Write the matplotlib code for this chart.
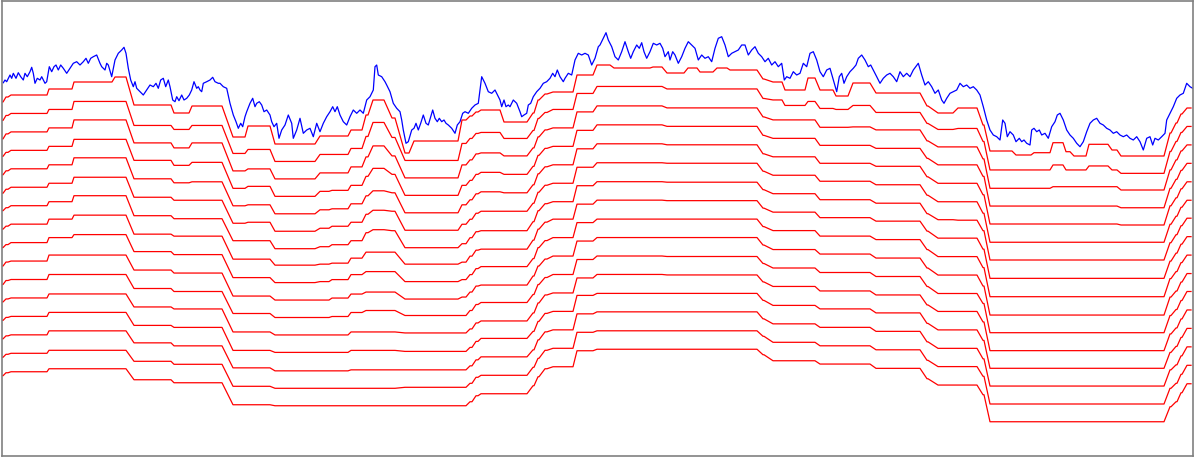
import numpy as np
import matplotlib
matplotlib.use("Agg")
import matplotlib.pyplot as plt

# noisy input signal (sample index, level; level axis points down)
blue_x = [3.3, 5, 6.7, 10, 11.7, 13.3, 16, 18.3, 20.7, 23.3, 25, 27.3, 30, 31.7, 33.3, 35, 37.3, 40, 41.7, 45, 46.7,
          49.3, 51.7, 54, 56, 58.3, 60.7, 63.3, 66.7, 70, 73.3, 76.7, 80, 83.3, 86, 88.3, 90.7, 93.3, 96.7, 100, 101.7,
          105, 106.7, 108.3, 111.7, 115, 118.3, 121.7, 124, 126, 128.3, 130.7, 133.3, 135, 136.7, 140, 143.3, 146.7,
          150, 153.3, 156, 158.3, 160.7, 163.3, 165.7, 168.3, 170, 172.7, 175, 176.7, 179, 181.7, 184, 186.7, 189.3,
          191.7, 194, 196.7, 198.3,
          200, 201.7, 203.3, 206.7, 210, 212.7, 215, 218.3, 220, 221.7, 223.3, 226.7, 230, 233.3, 236, 238.3, 240.7,
          242.7, 245, 246.7, 250, 252.7, 255, 256.7, 259.3, 261.7, 264, 266.7, 270, 271.7, 274, 276.7, 279, 281.7, 285,
          288.3, 291.7, 293.3, 296.7, 300, 303.3, 306.7, 310, 313.3, 316.7, 320, 323.3, 326.7, 330, 332.7, 335, 337.3,
          340, 343.3, 346.7, 350, 353.3, 356.7, 360, 363.3, 366.7, 370, 373.3, 375, 376.7, 378.3, 381.7, 385, 386.7,
          390, 393.3, 396.7,
          400, 401.7, 403.3, 406, 408.3, 411.7, 414, 416, 418.3, 420.7, 423.3, 426, 428.3, 430.7, 432.7, 435, 437.3,
          439.3, 441.7, 444, 446, 448.3, 451.7, 455, 457.3, 460, 462.7, 465, 468.3, 471.7, 475, 478.3, 481.7, 485,
          488.3, 491.7, 495, 498.3, 500, 501.7, 504, 506, 508.3, 510, 513.3, 516.7, 520, 521.7, 524, 526.7, 528.3,
          530.7, 533.3, 536.7, 540, 543.3, 546.7, 550, 552.7, 555, 557.3, 560, 563.3, 565, 568.3, 571.7, 575, 578.3,
          581.7, 585, 588.3, 591.7, 595, 598.3,
          600, 603.3, 606, 608.3, 611.7, 615, 618.3, 621.7, 625, 628.3, 630.7, 633.3, 636.7, 639.3, 641.7, 644, 646.7,
          650, 653.3, 656.7, 660, 662.7, 665, 668.3, 670, 672.7, 675, 678.3, 681.7, 685, 688.3, 691.7, 695, 698.3,
          701.7, 705, 708.3, 711.7, 715, 718.3, 721.7, 725, 728.3, 731.7, 735, 738.3, 741.7, 745, 748.3, 751.7, 755,
          758.3, 761.7, 765, 768.3, 771.7, 775, 778.3, 781.7, 784.3, 786.7, 790, 793.3, 796.7,
          800, 803.3, 806.7, 810, 813.3, 816.7, 820, 823.3, 826.7, 830, 833.3, 836.7, 839.3, 841.7, 844, 846.7, 850,
          853.3, 856, 858.3, 861.7, 865, 868.3, 870.7, 873.3, 876.7, 880, 883.3, 886.7, 890, 893.3, 896.7, 900, 903.3,
          906.7, 910, 913.3, 918.3, 921.7, 925, 928.3, 931.7, 935, 938.3, 941.7, 944, 946.7, 950, 953.3, 956.7, 960,
          963.3, 966.7, 970, 973.3, 976.7, 980, 983.3, 986.7, 990, 993.3, 996.7,
          1000, 1002.7, 1005, 1007.3, 1010, 1013.3, 1016, 1019.3, 1021.7, 1024, 1026.7, 1030, 1031.7, 1034, 1036.7,
          1039.3, 1041.7, 1045, 1048.3, 1051.7, 1055, 1057.3, 1060, 1063.3, 1066.7, 1070, 1073.3, 1076.7, 1080,
          1083.3, 1086.7, 1090, 1093.3, 1096.7, 1100, 1103.3, 1106.7, 1110, 1113.3, 1116.7, 1120, 1123.3, 1126.7,
          1130, 1133.3, 1136.7, 1140, 1143.3, 1146.7, 1150, 1152.7, 1155, 1158.3, 1161.7, 1165, 1166.7, 1170, 1173.3,
          1176.7, 1180, 1183.3, 1186.7, 1190, 1192.7]
blue_y = [82.7, 80, 81.7, 75, 78.3, 73.3, 78.3, 72.7, 76.7, 80, 73.3, 76.7, 71.7, 67.3, 73.3, 83.3, 78.3, 80, 76.7,
          83.3, 81.7, 66.7, 71.7, 66.7, 65, 70, 65, 68.3, 73.3, 68.3, 63.3, 61.7, 65, 61.7, 58.3, 63.3, 58.3, 56.7, 55,
          63.3, 66.7, 70, 63.3, 65, 76.7, 60, 53.3, 50, 47.3, 53.3, 68.3, 80, 86.7, 81.7, 88.3, 91.7, 95, 90, 85, 86.7,
          83.3, 88.3, 80, 78.3, 86.7, 80, 86.7, 100, 101.7, 96.7, 100.7, 95, 100, 98.3, 95, 90, 81.7, 88.3, 86.7,
          90, 91.7, 83.3, 81.7, 80, 77.3, 81.7, 83.3, 83.3, 85, 86.7, 88.3, 103.3, 115, 121.7, 128.3, 123.3, 126.7,
          116.7, 111.7, 103.3, 98.3, 106.7, 103.3, 101.7, 105, 111.7, 110, 115, 121.7, 126.7, 123.3, 138.3, 130, 125,
          115, 123.3, 138.3, 130, 118.3, 133.3, 130, 128.3, 136.7, 123.3, 131.7, 123.3, 116.7, 111.7, 106.7, 111.7,
          106.7, 115, 121.7, 125, 116.7, 110, 113.3, 110, 113.3, 100, 96.7, 90, 66.7, 65, 75, 76.7, 81.7, 85, 91.7,
          103.3, 108.3,
          111.7, 120, 130, 143.3, 141.7, 130, 128.3, 123.3, 130, 123.3, 115, 123.3, 125, 116.7, 110, 118.3, 121.7,
          118.3, 121.7, 120, 123.3, 125, 128.3, 133.3, 125, 121.7, 113.3, 111.7, 113.3, 108.3, 105, 103.3, 76.7, 83.3,
          91.7, 93.3, 90, 96.7, 100, 106.7, 100, 106.7, 105, 106.7, 100, 103.3, 111.7, 116.7, 115, 113.3, 105, 103.3,
          96.7, 91.7, 88.3, 83.3, 81.7, 78.3, 73.3, 76.7, 70, 76.7, 81.7, 78.3, 73.3, 75, 60, 53.3, 55, 53.3, 55, 65,
          58.3, 46.7,
          45, 38.3, 32.7, 40, 46.7, 56.7, 60, 51.7, 41.7, 51.7, 58.3, 51.7, 45, 48.3, 42.7, 51.7, 58.3, 51.7, 43.3, 45,
          43.3, 48.3, 56.7, 51.7, 60, 51.7, 55, 63.3, 56.7, 48.3, 41.7, 45, 48.3, 60, 55, 58.3, 56.7, 61.7, 48.3, 38.3,
          36.7, 45, 56.7, 53.3, 51.7, 50, 45, 45, 55, 50, 46.7, 53.3, 56.7, 61.7, 58.3, 65, 61.7, 66.7, 63.3, 80, 76.7,
          78.3, 71.7, 75,
          73.3, 63.3, 66.7, 53.3, 51.7, 60, 71.7, 76.7, 70, 68.3, 80, 91.7, 76.7, 73.3, 83.3, 76.7, 71.7, 68.3, 65,
          58.3, 55, 60, 66.7, 65, 70, 76.7, 83.3, 78.3, 75, 73.3, 76.7, 81.7, 71.7, 76.7, 73.3, 76.7, 70, 63.3, 75, 85,
          81.7, 86.7, 93.3, 90, 100, 103.3, 98.3, 93.3, 91.7, 90, 83.3, 86.7, 85, 88.3, 86.7, 90, 95, 106.7, 120, 130,
          135, 136.7,
          140, 120, 123.3, 136.7, 131.7, 135, 141.7, 138.3, 141.7, 140, 143.3, 145, 130, 128.3, 131.7, 130, 135, 133.3,
          138.3, 126.7, 121.7, 115, 113.3, 120, 130, 135, 138.3, 143.3, 146.7, 141.7, 131.7, 123.3, 120, 118.3, 123.3,
          125, 128.3, 130, 133.3, 131.7, 135, 136.7, 135, 138.3, 140, 136.7, 141.7, 150, 138.3, 136.7, 145, 138.3,
          140, 136.7, 133.3, 120, 113.3, 106.7, 98.3, 95, 93.3, 83.3, 86.7, 88.3]

# plateaus shared by the smoothed traces (start / end sample)
plat_x0 = [2, 6, 11, 49, 74, 115, 134, 174, 192,
           233, 248, 275, 320, 332, 351, 366, 373, 392, 405, 414,
           462, 470, 476, 481, 504, 533, 538, 545, 553,
           577, 597, 614, 653, 667, 688, 700, 717, 730,
           763, 773, 785, 808, 820, 836, 853, 876, 927, 938, 958,
           983, 990, 1016, 1034, 1053, 1066, 1074, 1089, 1112, 1121, 1170, 1176, 1181, 1187]
plat_x1 = [3, 8, 47, 72, 112, 126, 171, 189, 222,
           245, 270, 315, 329, 348, 362, 368, 384, 395, 409, 458,
           466, 472, 478, 500, 527, 534, 539, 547, 573,
           593, 610, 650, 662, 684, 697, 713, 727, 757,
           764, 782, 805, 815, 833, 848, 870, 920, 928, 953, 977,
           984, 1012, 1031, 1050, 1063, 1070, 1086, 1108, 1117, 1164, 1171, 1177, 1182, 1191]

# level of each plateau for traces 1..16, relative to the trace's own baseline
levels_left = [
    [7, 7, 7, 6, 6, 6, 5, 5, 5, 5, 5, 4, 4, 4, 4, 4],
    [2, 2, 2, 2, 2, 2, 2, 2, 2, 1, 1, 1, 1, 1, 1, 1],
    [0, 0, 0, 0, 0, 0, 0, 0, 0, 0, 0, 0, 0, 0, 0, 0],
    [-6, -4, -4, -4, -4, -4, -4, -5, -5, -6, -5, -4, -4, -4, -3, -3],
    [-13, -12, -12, -11, -11, -10, -10, -9, -8, -6, -5, -4, -4, -4, -3, -3],
    [-18, -12, -12, -11, -11, -10, -10, -9, -8, -6, -5, -4, -4, -4, -3, -3],
    [10, 12, 11, 10, 10, 10, 10, 10, 9, 9, 9, 9, 9, 8, 8, 8],
    [18, 16, 16, 15, 14, 13, 13, 12, 12, 12, 12, 11, 11, 11, 11, 11],
    [11, 12, 11, 12, 13, 13, 13, 12, 12, 12, 12, 11, 11, 11, 11, 11],
]
levels_dip = [
    [42, 40, 39, 38, 37, 36, 35, 35, 35, 35, 34, 34, 34, 33, 33, 33],
    [31, 36, 37, 36, 36, 35, 35, 35, 35, 35, 34, 34, 34, 33, 33, 33],
    [49, 48, 47, 46, 45, 44, 43, 41, 40, 39, 38, 37, 36, 36, 35, 34],
    [41, 41, 41, 41, 41, 41, 41, 40, 39, 39, 38, 37, 36, 36, 35, 34],
    [41, 41, 41, 40, 40, 39, 39, 39, 37, 37, 37, 37, 36, 36, 35, 34],
    [35, 35, 35, 35, 35, 35, 35, 34, 32, 33, 33, 34, 34, 35, 35, 34],
    [20, 23, 25, 26, 27, 27, 27, 28, 29, 31, 31, 34, 34, 35, 35, 34],
    [5, 9, 14, 18, 22, 23, 24, 28, 29, 31, 31, 34, 34, 35, 35, 34],
    [23, 24, 24, 24, 24, 24, 25, 28, 29, 31, 31, 34, 34, 35, 35, 34],
    [58, 47, 46, 45, 44, 43, 42, 40, 39, 38, 36, 35, 35, 35, 34, 34],
    [46, 47, 46, 45, 44, 43, 42, 40, 39, 38, 36, 35, 35, 35, 34, 34],
]
levels_rise = [
    [25, 30, 33, 35, 36, 37, 38, 38, 37, 36, 36, 35, 35, 35, 34, 34],
    [21, 25, 28, 30, 31, 32, 32, 32, 32, 31, 31, 31, 31, 31, 30, 30],
    [17, 20, 22, 24, 25, 26, 26, 26, 26, 25, 25, 25, 25, 25, 24, 24],
    [15, 19, 21, 22, 23, 24, 25, 25, 24, 24, 23, 23, 22, 22, 22, 22],
    [27, 25, 24, 24, 24, 24, 25, 25, 24, 24, 23, 23, 22, 22, 22, 22],
    [18, 17, 16, 16, 16, 16, 16, 16, 16, 15, 15, 15, 15, 15, 14, 14],
    [5, 5, 5, 5, 5, 5, 5, 5, 5, 5, 5, 5, 5, 5, 5, 5],
    [-1, -1, -2, -2, -2, -2, -2, -2, -2, -2, -2, -3, -3, -3, -3, -3],
    [-3, -4, -4, -4, -4, -4, -4, -5, -5, -5, -5, -5, -5, -5, -5, -5],
]
levels_top = [
    [-20, -20, -20, -20, -20, -20, -20, -20, -20, -20, -20, -20, -21, -21, -21, -21],
    [-30, -27, -26, -25.5, -25, -24.5, -24, -24, -23.5, -23.5, -23.5, -23.5, -23, -23, -22.5, -22.5],
    [-27, -27, -26, -25.5, -25, -24.5, -24, -24, -23.5, -23.5, -23.5, -23.5, -23, -23, -22.5, -22.5],
    [-28, -27, -26, -25.5, -25, -24.5, -24, -24, -23.5, -23.5, -23.5, -23.5, -23, -23, -22.5, -22.5],
    [-22, -24.5, -24, -24, -24, -24, -23.5, -23.5, -23.5, -23.5, -23, -23, -23, -23, -22.5, -22.5],
    [-27, -24.5, -24, -24, -24, -24, -23.5, -23.5, -23.5, -23.5, -23, -23, -23, -23, -22.5, -22.5],
    [-23, -24.5, -24, -24, -24, -24, -23.5, -23.5, -23.5, -23.5, -23, -23, -23, -23, -22.5, -22.5],
    [-27, -24.5, -24, -24, -24, -24, -23.5, -23.5, -23.5, -23.5, -23, -23, -23, -23, -22.5, -22.5],
    [-25, -24.5, -24, -24, -24, -24, -23.5, -23.5, -23.5, -23.5, -23, -23, -23, -23, -22.5, -22.5],
]
levels_fall = [
    [-16, -15, -15, -15, -15, -16, -16, -16, -16, -16, -16, -16, -16, -16, -17, -17],
    [-13, -13.5, -12, -12, -12, -12, -12, -12, -12, -11.5, -11.5, -11.5, -11, -11, -11, -11],
    [-5, -8, -12, -12, -12, -12, -12, -12, -12, -11.5, -11.5, -11.5, -11, -11, -11, -11],
    [-17, -12, -12, -12, -12, -12, -12, -12, -12, -11.5, -11.5, -11.5, -11, -11, -11, -11],
    [-5, -5, -4.6, -5, -5.5, -6, -6, -6.5, -6.5, -7, -7, -7, -7.5, -7.5, -7.5, -7.7],
    [1, -4, -4.6, -5, -5.5, -6, -6, -6.5, -6.5, -7, -7, -7, -7.5, -7.5, -7.5, -7.7],
    [-12, -8, -5, -5, -5.5, -6, -6, -6.5, -6.5, -7, -7, -7, -7.5, -7.5, -7.5, -7.7],
    [-2, -1, -2, -2, -2.5, -2.5, -2.5, -3, -3, -3, -3, -3, -3.5, -3.5, -3.5, -3.4],
    [11, 10, 9, 8, 8, 8, 8, 7, 7, 7, 7, 7, 7, 7, 7, 7],
    [18, 16, 15, 14.5, 14.5, 14.5, 14, 14, 14, 14, 14, 13.5, 13.5, 13.5, 13.3, 13.3],
    [13, 15, 15, 14.5, 14.5, 14.5, 14.5, 14, 14, 14, 14, 13.5, 13.5, 13.5, 13.3, 13.3],
]
levels_low = [
    [30, 28, 27, 26, 26, 26, 25, 25, 25, 25, 24, 24, 24, 24, 23, 23],
    [56, 56.5, 56.4, 55.7, 55.2, 55, 54.3, 54.2, 54.1, 54, 53.2, 52.7, 51.9, 51.2, 50.7, 50],
    [60, 56.5, 56.4, 55.7, 55.2, 55, 54.3, 54.2, 54.1, 54, 53.2, 52.7, 51.9, 51.2, 50.7, 50],
    [57.7, 56.5, 56.4, 55.7, 55.2, 55, 54.3, 54.2, 54.1, 54, 53.2, 52.7, 51.9, 51.2, 50.7, 50],
    [47.7, 51.5, 54.8, 55.7, 55.2, 55, 54.3, 54.2, 54.1, 54, 53.2, 52.7, 51.9, 51.2, 50.7, 50],
    [56.7, 56.5, 54.8, 55.7, 55.2, 55, 54.3, 54.2, 54.1, 54, 53.2, 52.7, 51.9, 51.2, 50.7, 50],
    [61, 56.5, 54.8, 55.7, 55.2, 55, 54.3, 54.2, 54.1, 54, 53.2, 52.7, 51.9, 51.2, 50.7, 50],
    [49.3, 52.5, 54.8, 55.7, 55.2, 55, 54.3, 54.2, 54.1, 54, 53.2, 52.7, 51.9, 51.2, 50.7, 50],
    [55, 56.5, 54.8, 55.7, 55.2, 55, 54.3, 54.2, 54.1, 54, 53.2, 52.7, 51.9, 51.2, 50.7, 50],
    [61, 59.9, 58.1, 57.4, 56.2, 55, 54.3, 54.2, 54.1, 54, 53.2, 52.7, 51.9, 51.2, 50.7, 50],
    [38, 38, 38, 38, 37, 37, 37, 37, 36, 36, 36, 36, 36, 35, 35, 35],
    [28, 28, 28, 29, 29, 29, 29, 29, 29, 30, 30, 30, 30, 30, 30, 30],
    [19, 19, 19, 20, 20, 20, 20, 20, 20, 21, 21, 21, 21, 21, 21, 21],
    [13, 13, 13, 13, 13, 13, 12.5, 12.5, 12.5, 12.5, 12, 12, 12, 12, 12, 12],
]

first_base = 95      # baseline of the first smoothed trace
spacing = 18.45      # vertical offset between traces

levels = np.vstack([levels_left, levels_dip, levels_rise, levels_top, levels_fall, levels_low])
x0 = np.array(plat_x0, dtype=float)
x1 = np.array(plat_x1, dtype=float)
xs = np.column_stack([x0, x1]).ravel()

fig = plt.figure(figsize=(11.99, 4.61), dpi=100)
ax = fig.add_axes([2 / 1199, 5 / 461, 1191 / 1199, 455 / 461])

for k in range(levels.shape[1]):
    base = first_base + spacing * k
    ys = np.repeat(base + levels[:, k], 2)
    ax.plot(xs, ys, color="#ff0000", linewidth=0.9)

ax.plot(blue_x, blue_y, color="#0000ff", linewidth=0.9)

ax.set_xlim(2, 1193)
ax.set_ylim(456, 1)
ax.set_xticks([])
ax.set_yticks([])
for s in ax.spines.values():
    s.set_color("#808080")
    s.set_linewidth(1.2)

fig.savefig("out.png", dpi=100)
